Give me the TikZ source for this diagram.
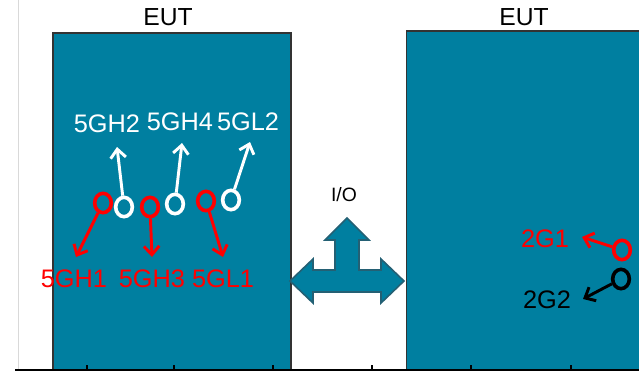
\documentclass[tikz,border=0pt]{standalone}
\usepackage{fontspec}
\setmainfont{Liberation Sans}
\usetikzlibrary{arrows.meta,positioning,shapes.geometric}
\definecolor{eutteal}{RGB}{0,127,160}
\definecolor{ioedge}{RGB}{36,96,116}
\definecolor{antred}{RGB}{255,0,0}
\tikzset{
  eutbox/.style={rectangle, draw=black!80, fill=eutteal, line width=0.9pt,
        inner sep=0pt, outer sep=0pt},
  eutlabel/.style={font=\fontsize{18.5}{20}\selectfont, inner sep=0pt},
  antenna/.style={ellipse, draw=#1, line width=2.7pt, inner sep=0pt,
        minimum width=12.5pt, minimum height=14.5pt},
  feed/.style={draw=#1, line width=2.2pt,
        -{Straight Barb[length=6.5pt, width=11.5pt]}},
  bandlabel/.style={text=#1, font=\fontsize{19}{21}\selectfont, inner sep=0pt}
}

\begin{document}
\begin{tikzpicture}[x=0.75pt, y=-0.75pt]
        \useasboundingbox (0,0) rectangle (639,372);

        % frame of the chart
        \draw[black!15, line width=0.6pt] (18,0) -- (18,370);

        % the two units
        \node[eutbox, minimum width=178.5pt, minimum height=252.75pt]
            (eutA) at (172,201.5) {};
        \node[eutbox, minimum width=184pt, minimum height=254.25pt]
            (eutB) at (529.5,200.5) {};
        \node[eutlabel] (titleA) at (168,17) {EUT};
        \node[eutlabel] (titleB) at (524,17) {EUT};

        % I/O link
        \filldraw[fill=eutteal, draw=ioedge, line width=1.2pt, line join=miter]
            (290,281) -- (313,259) -- (313,270) -- (335,270) -- (335,240)
            -- (325,240) -- (347,218) -- (369,240) -- (359,240) -- (359,270)
            -- (381,270) -- (381,259) -- (404,281) -- (381,303) -- (381,292)
            -- (313,292) -- (313,303) -- cycle;
        \node[font=\fontsize{14.5}{16}\selectfont, inner sep=0pt]
            (io) at (344,195) {I/O};

        % 5G antennas
        \node[antenna=antred] (gh1) at (103,203) {};
        \node[antenna=white]  (gh2) at (124,207) {};
        \node[antenna=antred] (gh3) at (150,207) {};
        \node[antenna=white]  (gh4) at (175,204) {};
        \node[antenna=antred] (gl1) at (206,201) {};
        \node[antenna=white]  (gl2) at (231,200) {};

        \node[bandlabel=white]  (lgh2) at (107,124) {5GH2};
        \node[bandlabel=white]  (lgh4) at (180,122) {5GH4};
        \node[bandlabel=white]  (lgl2) at (248,122) {5GL2};
        \node[bandlabel=antred] (lgh1) at (74,279)  {5GH1};
        \node[bandlabel=antred] (lgh3) at (152,279) {5GH3};
        \node[bandlabel=antred] (lgl1) at (223,279) {5GL1};

        \coordinate (tgh1) at (76,257);
        \coordinate (tgh2) at (117,147);
        \coordinate (tgh3) at (152,257);
        \coordinate (tgh4) at (182,143);
        \coordinate (tgl1) at (223,257);
        \coordinate (tgl2) at (250,142);

        \draw[feed=antred] (gh1) -- (tgh1);
        \draw[feed=white]  (gh2) -- (tgh2);
        \draw[feed=antred] (gh3) -- (tgh3);
        \draw[feed=white]  (gh4) -- (tgh4);
        \draw[feed=antred] (gl1) -- (tgl1);
        \draw[feed=white]  (gl2) -- (tgl2);

        % 2G antennas
        \node[antenna=antred] (g1) at (622,250) {};
        \node[antenna=black]  (g2) at (621,279) {};
        \node[bandlabel=antred] (lg1) at (545,239) {2G1};
        \node[bandlabel=black]  (lg2) at (547,300) {2G2};
        \coordinate (tg1) at (582,237);
        \coordinate (tg2) at (583,299);
        \draw[feed=antred] (g1) -- (tg1);
        \draw[feed=black]  (g2) -- (tg2);

        % axis
        \draw[black, line width=1.5pt] (15,370) -- (645,370);
        \foreach \tx in {87,174,273,372,471,571}
            \draw[black, line width=0.8pt] (\tx,370) -- (\tx,365);
    \end{tikzpicture}
\end{document}
